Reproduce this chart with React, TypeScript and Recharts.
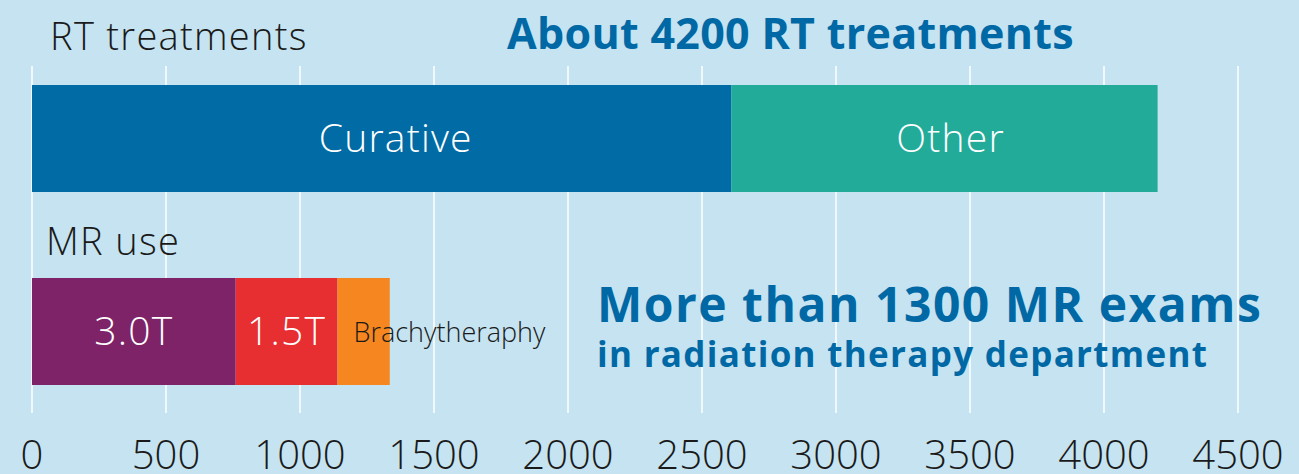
import { Bar, BarChart, CartesianGrid, LabelList, XAxis, YAxis } from 'recharts'

const categories = ['RT treatments', 'MR use']
const curative = [2610, 0]
const other = [1590, 0]
const mr30 = [0, 760]
const mr15 = [0, 380]
const brachy = [0, 195]
const xTicks = [0, 500, 1000, 1500, 2000, 2500, 3000, 3500, 4000, 4500]

const BG = '#c5e3f0'
const HEAD = '#0069a5'
const FONT = '"Open Sans", sans-serif'

const series = [
  { key: 'curative', label: 'Curative', values: curative, color: '#006ba4', inside: true },
  { key: 'other', label: 'Other', values: other, color: '#22ab99', inside: true },
  { key: 'mr30', label: '3.0T', values: mr30, color: '#7e2368', inside: true },
  { key: 'mr15', label: '1.5T', values: mr15, color: '#e72e30', inside: true },
  { key: 'brachy', label: 'Brachytheraphy', values: brachy, color: '#f6861f', inside: false },
]

const data = categories.map((name, i) => {
  const row: Record<string, string | number> = { name }
  series.forEach((s) => (row[s.key] = s.values[i]))
  return row
})

// the top-bar labels sit a little right of centre in the original
const labelNudge: Record<string, number> = { curative: 14, other: 6 }

function makeLabel(key: string, text: string, inside: boolean) {
  return (p: any) => {
    if (!p.value) return null
    const cy = Number(p.y) + Number(p.height) / 2
    if (!inside) {
      return (
        <text x={Number(p.x) + 16} y={cy + 10} fill="#1a1a1a" fontSize={27} fontWeight={300} fontFamily={FONT}>
          {text}
        </text>
      )
    }
    return (
      <text
        x={Number(p.x) + Number(p.width) / 2 + (labelNudge[key] ?? 0)}
        y={cy + 13.5}
        fill="#fff"
        fontSize={39}
        fontWeight={300}
        fontFamily={FONT}
        letterSpacing={1.2}
        textAnchor="middle"
      >
        {text}
      </text>
    )
  }
}

// category names sit above their bars rather than to the left
const catOffset = [
  { dx: 18, dy: -88.5 },
  { dx: 14, dy: -76.5 },
]

function renderCategory(p: any) {
  const o = catOffset[p.index] ?? { dx: 0, dy: 0 }
  return (
    <text
      x={32 + o.dx}
      y={p.y + o.dy}
      fill="#1a1a1a"
      fontSize={38}
      fontWeight={300}
      fontFamily={FONT}
      letterSpacing={1.3}
    >
      {p.payload.value}
    </text>
  )
}

function renderXTick(p: any) {
  return (
    <text x={p.x} y={469} fill="#1a1a1a" fontSize={40} fontWeight={300} fontFamily={FONT} textAnchor="middle">
      {p.payload.value}
    </text>
  )
}

export default function App() {
  return (
    <div style={{ position: 'absolute', left: 0, top: 0, width: 1299, height: 474, background: BG }}>
      <BarChart
        width={1299}
        height={474}
        data={data}
        layout="vertical"
        barSize={107}
        margin={{ top: 42, right: 61, bottom: 0, left: 30 }}
      >
        <CartesianGrid horizontal={false} stroke="#ffffff" strokeWidth={1.5} y={66} height={347} />
        <XAxis
          type="number"
          domain={[0, 4500]}
          ticks={xTicks}
          interval={0}
          axisLine={false}
          tickLine={false}
          height={46}
          tick={renderXTick}
        />
        <YAxis
          type="category"
          dataKey="name"
          width={2}
          axisLine={false}
          tickLine={false}
          interval={0}
          tick={renderCategory}
        />
        {series.map((s) => (
          <Bar key={s.key} dataKey={s.key} stackId="a" fill={s.color} isAnimationActive={false}>
            <LabelList dataKey={s.key} content={makeLabel(s.key, s.label, s.inside)} />
          </Bar>
        ))}
      </BarChart>
      <svg width={1299} height={474} style={{ position: 'absolute', left: 0, top: 0, pointerEvents: 'none' }}>
        <text x={507} y={49} fill={HEAD} fontSize={43} fontWeight={700} fontFamily={FONT} letterSpacing={0.3}>
          About 4200 RT treatments
        </text>
        <text x={597} y={321.5} fill={HEAD} fontSize={48} fontWeight={700} fontFamily={FONT} letterSpacing={1.5}>
          More than 1300 MR exams
        </text>
        <text x={597} y={366.5} fill={HEAD} fontSize={35} fontWeight={700} fontFamily={FONT} letterSpacing={1.3}>
          in radiation therapy department
        </text>
      </svg>
    </div>
  )
}
